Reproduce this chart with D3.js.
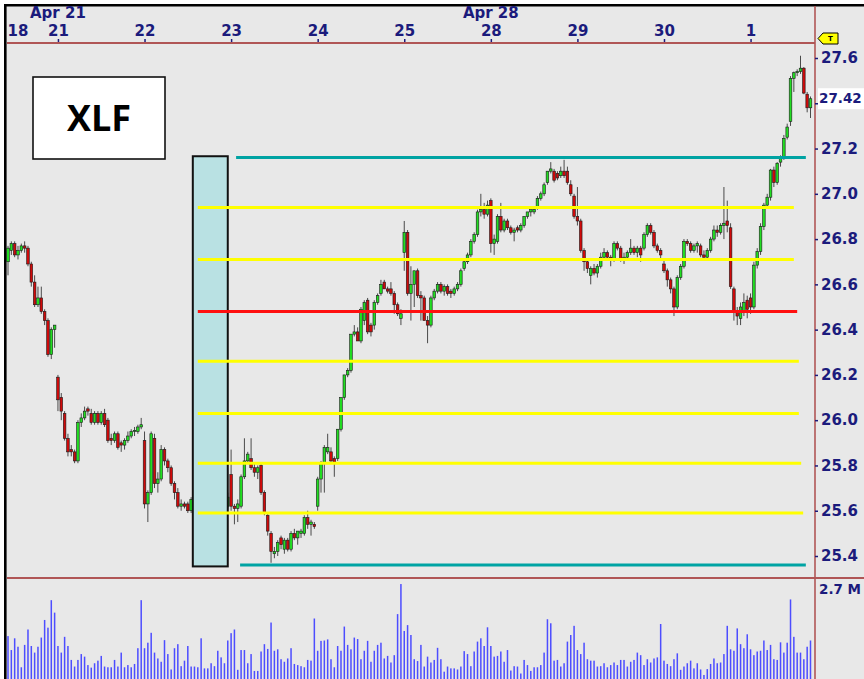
<!DOCTYPE html>
<html>
<head>
<meta charset="utf-8">
<script src="https://cdn.jsdelivr.net/npm/d3@7"></script>
<style>
html, body { margin: 0; padding: 0; background: #fff; }
svg { display: block; }
</style>
</head>
<body>
<svg></svg>
<script>
'use strict'

// 15 min bars, one array per session: [open, high, low, close]
let apr18 = [
	[26.70,26.77,26.64,26.76], [26.75,26.79,26.73,26.78], [26.78,26.79,26.72,26.73], [26.73,26.77,26.71,26.75],
	[26.75,26.78,26.74,26.77], [26.77,26.79,26.74,26.76], [26.76,26.77,26.68,26.69], [26.69,26.70,26.59,26.61],
	[26.61,26.64,26.50,26.51], [26.51,26.59,26.50,26.54], [26.54,26.59,26.47,26.48], [26.48,26.49,26.42,26.44],
	[26.44,26.45,26.28,26.29], [26.29,26.41,26.27,26.40], [26.40,26.42,26.32,26.42] ]
let apr21 = [
	[26.19,26.20,26.04,26.09], [26.10,26.12,26.00,26.04], [26.03,26.04,25.91,25.92], [25.92,25.94,25.84,25.86],
	[25.87,25.89,25.84,25.86], [25.86,25.87,25.81,25.82], [25.82,26.00,25.81,25.99], [25.99,26.03,25.97,26.01],
	[26.01,26.06,26.00,26.04], [26.05,26.06,26.02,26.04], [26.03,26.05,25.98,25.99], [25.99,26.04,25.98,26.03],
	[26.03,26.04,25.98,25.99], [25.99,26.04,25.98,26.03], [26.03,26.05,25.97,25.98], [26.00,26.01,25.90,25.91],
	[25.92,25.94,25.89,25.91], [25.91,25.95,25.90,25.94], [25.94,25.95,25.87,25.88], [25.90,25.91,25.86,25.89],
	[25.89,25.92,25.87,25.91], [25.91,25.95,25.90,25.93], [25.93,25.96,25.92,25.95], [25.95,25.97,25.93,25.955],
	[25.95,25.98,25.94,25.97], [25.97,26.01,25.96,25.98] ]
let apr22 = [
	[25.91,25.95,25.61,25.63], [25.63,25.69,25.55,25.68], [25.68,25.95,25.67,25.94], [25.92,25.94,25.70,25.72],
	[25.72,25.77,25.68,25.74], [25.74,25.89,25.73,25.87], [25.87,25.88,25.80,25.82], [25.82,25.83,25.77,25.79],
	[25.79,25.80,25.71,25.72], [25.72,25.73,25.65,25.68], [25.68,25.70,25.61,25.62], [25.62,25.65,25.60,25.63],
	[25.63,25.64,25.61,25.62], [25.63,25.64,25.59,25.60], [25.60,25.66,25.59,25.65], [25.65,25.67,25.62,25.63],
	[25.63,25.68,25.62,25.66], [25.66,25.67,25.61,25.62], [25.62,25.66,25.60,25.64], [25.64,25.69,25.63,25.67],
	[25.67,25.68,25.62,25.63], [25.63,25.67,25.61,25.65], [25.65,25.66,25.60,25.61], [25.61,25.65,25.60,25.64],
	[25.64,25.66,25.61,25.62], [25.62,25.68,25.61,25.66] ]
let apr23 = [
	[25.76,25.87,25.60,25.62], [25.62,25.63,25.54,25.61], [25.61,25.65,25.55,25.63], [25.62,25.76,25.61,25.75],
	[25.75,25.92,25.74,25.82], [25.82,25.86,25.81,25.85], [25.83,25.92,25.78,25.79], [25.79,25.81,25.75,25.77],
	[25.77,25.80,25.74,25.79], [25.80,25.81,25.67,25.68], [25.68,25.69,25.58,25.59], [25.58,25.59,25.49,25.51],
	[25.50,25.51,25.37,25.42], [25.41,25.44,25.39,25.42], [25.42,25.47,25.40,25.46], [25.48,25.49,25.43,25.45],
	[25.43,25.48,25.41,25.47], [25.47,25.48,25.42,25.43], [25.43,25.51,25.42,25.50], [25.50,25.52,25.47,25.48],
	[25.48,25.51,25.45,25.51], [25.50,25.52,25.48,25.51], [25.50,25.58,25.49,25.57], [25.57,25.60,25.52,25.54],
	[25.54,25.56,25.49,25.55], [25.54,25.55,25.52,25.53] ]
let apr24 = [
	[25.62,25.75,25.60,25.74], [25.74,25.82,25.68,25.81], [25.81,25.89,25.68,25.88], [25.86,25.94,25.85,25.88],
	[25.86,25.88,25.81,25.82], [25.83,25.84,25.75,25.81], [25.83,25.96,25.82,25.96], [25.96,26.10,25.95,26.10],
	[26.10,26.20,26.09,26.20], [26.20,26.23,26.19,26.22], [26.22,26.38,26.21,26.38], [26.38,26.42,26.37,26.39],
	[26.39,26.41,26.35,26.35], [26.35,26.50,26.34,26.49], [26.44,26.53,26.42,26.52], [26.53,26.54,26.38,26.39],
	[26.42,26.43,26.37,26.39], [26.42,26.53,26.40,26.52], [26.52,26.56,26.51,26.55], [26.56,26.62,26.55,26.60],
	[26.61,26.62,26.58,26.58], [26.58,26.59,26.56,26.57], [26.58,26.61,26.55,26.56], [26.56,26.57,26.47,26.51],
	[26.51,26.52,26.46,26.47], [26.45,26.49,26.42,26.47] ]
let apr25 = [
	[26.74,26.88,26.66,26.83], [26.83,26.84,26.55,26.56], [26.56,26.68,26.44,26.60], [26.60,26.66,26.50,26.66],
	[26.66,26.67,26.54,26.55], [26.55,26.57,26.44,26.54], [26.54,26.55,26.45,26.44], [26.44,26.46,26.34,26.42],
	[26.42,26.55,26.41,26.54], [26.54,26.58,26.53,26.57], [26.57,26.61,26.56,26.60], [26.60,26.61,26.56,26.57],
	[26.57,26.60,26.55,26.59], [26.59,26.60,26.55,26.56], [26.57,26.58,26.54,26.56], [26.56,26.59,26.55,26.58],
	[26.58,26.61,26.57,26.60], [26.60,26.67,26.59,26.66], [26.67,26.71,26.66,26.70], [26.70,26.74,26.69,26.73],
	[26.73,26.80,26.72,26.79], [26.79,26.83,26.78,26.82], [26.82,26.93,26.81,26.92], [26.92,27.00,26.90,26.93],
	[26.93,26.96,26.89,26.91], [26.91,26.97,26.90,26.95] ]
let apr28 = [
	[26.97,26.98,26.74,26.78], [26.78,26.82,26.73,26.80], [26.79,26.91,26.78,26.90], [26.90,26.96,26.83,26.84],
	[26.84,26.89,26.83,26.88], [26.88,26.89,26.84,26.85], [26.85,26.86,26.82,26.83], [26.83,26.85,26.79,26.84],
	[26.85,26.86,26.83,26.84], [26.84,26.87,26.83,26.86], [26.86,26.90,26.85,26.90], [26.90,26.92,26.89,26.92],
	[26.92,26.93,26.90,26.93], [26.92,26.94,26.91,26.93], [26.94,26.99,26.93,26.98], [26.98,27.01,26.97,27.00],
	[27.00,27.05,26.99,27.04], [27.05,27.10,27.04,27.10], [27.10,27.14,27.09,27.11], [27.10,27.11,27.05,27.06],
	[27.09,27.10,27.06,27.07], [27.08,27.12,27.07,27.10], [27.10,27.15,27.07,27.08], [27.10,27.12,27.04,27.05],
	[27.04,27.06,26.99,27.00], [26.99,27.00,26.89,26.90] ]
let apr29 = [
	[26.90,27.03,26.86,26.88], [26.88,26.89,26.74,26.75], [26.75,26.76,26.66,26.70], [26.70,26.71,26.65,26.67],
	[26.64,26.68,26.60,26.67], [26.67,26.69,26.64,26.65], [26.65,26.69,26.63,26.68], [26.68,26.74,26.67,26.72],
	[26.72,26.76,26.71,26.74], [26.74,26.75,26.71,26.72], [26.72,26.73,26.68,26.71], [26.71,26.79,26.70,26.78],
	[26.78,26.79,26.75,26.76], [26.76,26.77,26.70,26.71], [26.71,26.74,26.69,26.72], [26.72,26.75,26.71,26.74],
	[26.74,26.80,26.73,26.76], [26.76,26.77,26.73,26.74], [26.74,26.77,26.72,26.76], [26.76,26.77,26.70,26.73],
	[26.76,26.83,26.75,26.82], [26.82,26.87,26.81,26.86], [26.86,26.87,26.82,26.83], [26.83,26.84,26.76,26.77],
	[26.77,26.78,26.74,26.75], [26.75,26.76,26.71,26.73] ]
let apr30 = [
	[26.69,26.71,26.65,26.66], [26.66,26.67,26.59,26.62], [26.62,26.63,26.56,26.58], [26.58,26.59,26.46,26.50],
	[26.50,26.64,26.49,26.63], [26.63,26.69,26.62,26.68], [26.68,26.80,26.67,26.79], [26.79,26.80,26.77,26.78],
	[26.78,26.79,26.74,26.75], [26.75,26.78,26.74,26.77], [26.77,26.79,26.74,26.78], [26.77,26.78,26.72,26.73],
	[26.73,26.75,26.71,26.72], [26.72,26.76,26.71,26.75], [26.75,26.81,26.74,26.80], [26.80,26.86,26.79,26.84],
	[26.84,26.86,26.81,26.83], [26.83,26.87,26.82,26.86], [26.86,27.03,26.80,26.87], [26.88,26.97,26.83,26.86],
	[26.85,26.87,26.58,26.59], [26.58,26.59,26.44,26.48], [26.48,26.50,26.42,26.46], [26.45,26.52,26.42,26.50],
	[26.48,26.56,26.46,26.52], [26.53,26.55,26.45,26.49] ]
let may1 = [
	[26.54,26.56,26.47,26.50], [26.50,26.70,26.49,26.685], [26.685,26.76,26.67,26.745], [26.745,26.87,26.73,26.855],
	[26.855,26.96,26.84,26.95], [26.95,27.00,26.94,26.985], [26.985,27.11,26.97,27.105], [27.105,27.12,27.03,27.05],
	[27.05,27.14,27.04,27.135], [27.14,27.17,27.12,27.16], [27.16,27.26,27.15,27.245], [27.25,27.31,27.24,27.295],
	[27.32,27.52,27.30,27.51], [27.51,27.54,27.45,27.535], [27.535,27.55,27.52,27.54], [27.54,27.61,27.53,27.555],
	[27.555,27.56,27.44,27.445], [27.44,27.45,27.36,27.38], [27.38,27.43,27.335,27.42] ]

// volume per bar, millions
let volumes = [
	1.17,0.79,1.11,0.88,0.32,0.93,1.35,0.90,0.72,0.88, 1.13,1.61,1.40,2.15,1.81,0.90,0.72,1.15,0.90,0.52,
	0.34,0.52,0.68,0.61,0.38,0.31,0.43,0.50,0.63,0.34, 0.32,0.32,0.52,0.34,0.72,0.32,0.38,0.32,0.41,0.84,
	2.15,0.84,0.99,1.26,0.72,0.56,0.47,1.06,0.68,0.26, 0.84,0.95,0.35,0.50,0.90,0.34,0.34,0.32,1.11,0.29,
	0.29,0.43,0.35,0.77,0.59,0.43,1.05,1.25,1.35,0.25, 0.79,0.79,0.43,0.68,0.22,0.22,0.75,0.95,0.82,1.54,
	0.77,0.81,0.54,0.47,0.56,0.84,0.41,0.38,0.35,0.32, 0.52,0.50,1.65,0.77,1.04,1.05,1.08,0.54,0.32,0.90,
	0.77,1.43,0.93,0.81,1.13,1.09,0.54,0.77,1.04,0.47, 0.77,0.93,0.99,0.56,0.63,0.45,0.65,1.77,2.59,1.31,
	1.47,1.20,0.54,0.49,0.93,0.34,0.61,0.45,
	0.52,0.85,0.54,0.20,0.34,0.29,0.29,0.26,0.34,0.76, 0.68,0.35,0.75,1.02,1.11,0.90,1.41,0.90,0.61,0.63,
	0.75,0.47,0.79,0.23,0.35,0.34,0.15,0.52,0.38,0.22, 0.32,0.32,0.38,0.72,1.63,1.52,0.50,0.52,0.34,0.43,
	1.02,1.20,1.45,0.79,0.68,0.99,0.54,0.50,0.50,0.34, 0.35,0.43,0.32,0.38,0.45,0.38,0.52,0.52,0.34,0.47,
	0.52,0.72,0.65,0.38,0.54,0.45,0.56,0.59,1.50,0.50, 0.41,0.35,0.54,0.70,0.25,0.34,0.43,0.50,0.29,0.43,
	0.26,0.11,0.27,0.41,0.56,0.43,0.45,0.68,1.45,0.81, 0.77,1.38,0.95,0.84,1.22,0.81,0.65,0.75,0.77,1.05,
	0.79,0.93,0.54,0.52,1.00,0.72,0.99,2.17,1.15,0.72, 0.72,0.54,0.88,1.05 ]

let sessions = [apr18, apr21, apr22, apr23, apr24, apr25, apr28, apr29, apr30, may1],
	dayLabels = ['18', '21', '22', '23', '24', '25', '28', '29', '30', '1'],
	weekLabels = ['Apr 21', 'Apr 28'], weekDays = ['21', '28'],
	priceTicks = [25.4, 25.6, 25.8, 26.0, 26.2, 26.4, 26.6, 26.8, 27.0, 27.2, 27.4, 27.6],
	lastPrice = 27.42, volMax = 2.7, ticker = 'XLF'

// drawn levels: price, first bar, last bar, kind
let levelPrices = [27.16, 26.94, 26.71, 26.48, 26.26, 26.03, 25.81, 25.59, 25.36],
	levelFrom = [68.5, 57, 57, 57, 57, 57, 57, 57, 69.7],
	levelTo = [239.6, 236, 236, 237, 237.5, 237.5, 238.2, 238.8, 239.6],
	levelKind = ['teal', 'yellow', 'yellow', 'red', 'yellow', 'yellow', 'yellow', 'yellow', 'teal']
// shaded box over the 22nd: bar range, price range
let boxBars = [55.5, 66], boxPrices = [25.354, 27.166]


let bars = sessions.flat(),
	dayStart = d3.cumsum([0].concat(sessions.map(s => s.length))).slice(0, -1)

let W = 864, H = 679,
	axisX = 815, dateY = 43, volTop = 578,
	navy = '#1b1b7c', axisRed = '#b05656',
	kindColor = {teal: '#00a3a3', yellow: '#ffff00', red: '#ff1010'},
	x = d3.scaleLinear().domain([0, bars.length - 1]).range([8, 810.5]),
	y = d3.scaleLinear().domain([25.4, 27.6]).range([556, 58]),
	yv = d3.scaleLinear().domain([0, volMax]).range([H, 580])

let svg = d3.select('svg').attr('width', W).attr('height', H)
	.style('font-family', "'DejaVu Sans', sans-serif").style('font-weight', 'bold')

svg.append('rect').attr('x', 4).attr('y', 4)
	.attr('width', W).attr('height', H).attr('fill', '#e8e8e8')
svg.append('path').attr('d', `M5.3 ${H} V5.3 H${W}`)
	.attr('fill', 'none').attr('stroke', '#000').attr('stroke-width', 2.6)

// axis frame lines
svg.append('line').attr('x1', 7).attr('x2', axisX).attr('y1', dateY).attr('y2', dateY)
	.attr('stroke', axisRed).attr('stroke-width', 2)
svg.append('line').attr('x1', 7).attr('x2', W).attr('y1', volTop).attr('y2', volTop)
	.attr('stroke', axisRed).attr('stroke-width', 2)
svg.append('line').attr('x1', axisX).attr('x2', axisX).attr('y1', 6).attr('y2', H)
	.attr('stroke', axisRed).attr('stroke-width', 1.6)

// date axis
svg.append('g').attr('transform', `translate(0 ${dateY - 1})`)
	.call(d3.axisTop(x).tickValues(dayStart).tickSize(3).tickPadding(3)
		.tickFormat((d, n) => dayLabels[n]))
	.call(g => g.select('.domain').remove())
	.attr('color', navy).attr('font-size', 15).attr('font-family', null)
	.call(g => g.selectAll('.tick line').attr('stroke-width', 1.5))
	.call(g => g.select('.tick').call(t => t.select('line').remove())
		.select('text').attr('text-anchor', 'start').attr('x', -1))
svg.append('g').selectAll('text').data(weekLabels).join('text')
	.attr('x', (d, n) => x(dayStart[dayLabels.indexOf(weekDays[n])]))
	.attr('y', 18).attr('text-anchor', 'middle')
	.attr('fill', navy).attr('font-size', 15).text(d => d)

// price axis (the label at the last price sits under the price box)
svg.append('g').attr('transform', `translate(${axisX} 0)`)
	.call(d3.axisRight(y).tickValues(priceTicks).tickSize(3).tickPadding(3)
		.tickFormat(d => Math.abs(d - lastPrice) < 0.05 ? '' : d3.format('.1f')(d)))
	.call(g => g.select('.domain').remove())
	.attr('color', navy).attr('font-size', 15).attr('font-family', null)
	.call(g => g.selectAll('.tick line').attr('stroke-width', 1.5))

// volume
svg.append('g').selectAll('rect').data(volumes).join('rect')
	.attr('x', (d, n) => x(n) - 0.75).attr('width', 1.5)
	.attr('y', d => yv(d)).attr('height', d => yv(0) - yv(d))
	.attr('fill', '#4d4dff')
svg.append('text').attr('x', axisX + 4).attr('y', 589).attr('dy', '0.35em')
	.attr('fill', navy).attr('font-size', 13.5).text(`${volMax} M`)

// candles
svg.append('g').selectAll('g').data(bars).join('g')
	.call(g => g.append('line')
		.attr('x1', (d, n) => x(n)).attr('x2', (d, n) => x(n))
		.attr('y1', d => y(d[1])).attr('y2', d => y(d[2]))
		.attr('stroke', '#4a4a4a').attr('stroke-width', 1))
	.call(g => g.append('rect')
		.attr('x', (d, n) => x(n) - 1.3).attr('width', 2.6)
		.attr('y', d => y(Math.max(d[0], d[3])))
		.attr('height', d => Math.max(1, Math.abs(y(d[0]) - y(d[3]))))
		.attr('fill', d => d[3] >= d[0] ? '#22dd22' : '#d00a0a')
		.attr('stroke', '#1a1a1a').attr('stroke-width', 0.6))

// shaded box
svg.append('rect')
	.attr('x', x(boxBars[0])).attr('width', x(boxBars[1]) - x(boxBars[0]))
	.attr('y', y(boxPrices[1])).attr('height', y(boxPrices[0]) - y(boxPrices[1]))
	.attr('fill', '#b9e1e3').attr('stroke', '#111').attr('stroke-width', 2)

// levels
svg.append('g').selectAll('line').data(levelPrices).join('line')
	.attr('x1', (d, n) => x(levelFrom[n])).attr('x2', (d, n) => x(levelTo[n]))
	.attr('y1', d => y(d)).attr('y2', d => y(d))
	.attr('stroke', (d, n) => kindColor[levelKind[n]]).attr('stroke-width', 3)

// ticker box
svg.append('rect').attr('x', 33).attr('y', 77).attr('width', 132).attr('height', 82)
	.attr('fill', '#fff').attr('stroke', '#111').attr('stroke-width', 1.6)
svg.append('text').attr('x', 99).attr('y', 118).attr('dy', '0.36em')
	.attr('text-anchor', 'middle').attr('font-family', "'Open Sans', sans-serif")
	.attr('font-size', 36).attr('fill', '#000').text(ticker)

// last price label
svg.append('rect').attr('x', axisX + 3).attr('y', y(lastPrice) - 10.5)
	.attr('width', W - axisX).attr('height', 21).attr('fill', '#fff')
svg.append('text').attr('x', axisX + 4).attr('y', y(lastPrice)).attr('dy', '0.35em')
	.attr('fill', navy).attr('font-size', 13.5).text(lastPrice.toFixed(2))

// T tag
svg.append('path').attr('d', 'M818 38.5 L823 33 H838 V44 H823 Z')
	.attr('fill', '#ffff00').attr('stroke', '#000').attr('stroke-width', 1)
svg.append('text').attr('x', 830.5).attr('y', 38.5).attr('dy', '0.35em')
	.attr('text-anchor', 'middle').attr('font-size', 7).attr('fill', '#000').text('T')
</script>
</body>
</html>
